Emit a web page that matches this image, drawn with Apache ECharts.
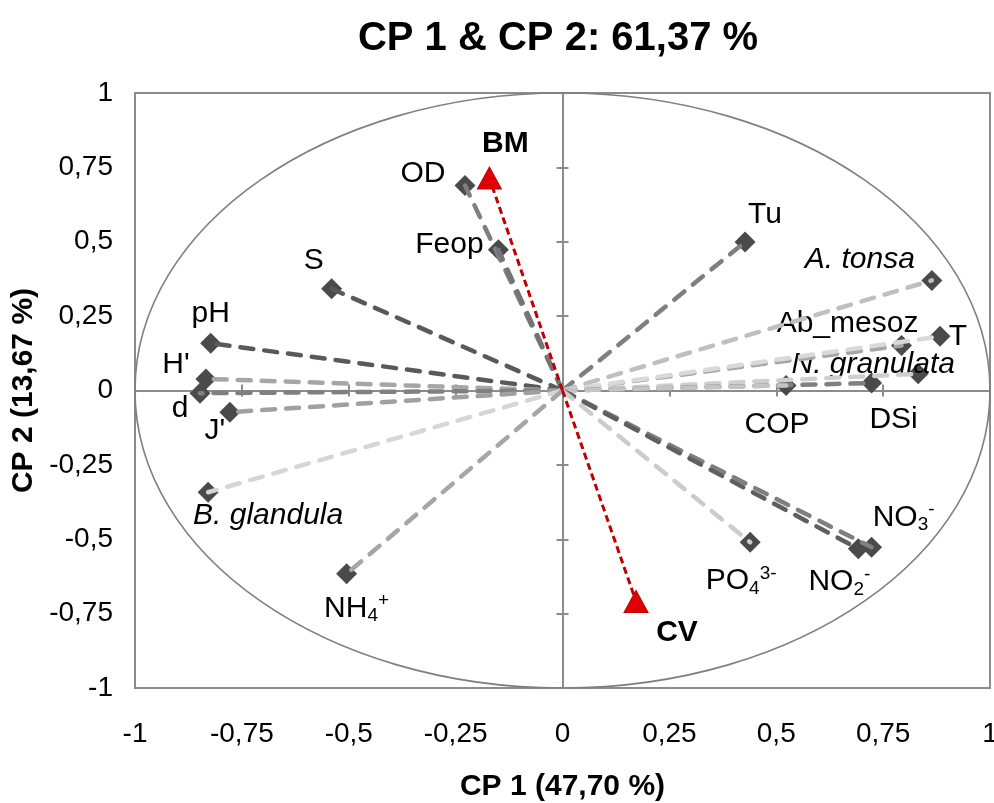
<!DOCTYPE html>
<html>
<head>
<meta charset="utf-8">
<script src="https://cdn.jsdelivr.net/npm/echarts@6/dist/echarts.min.js"></script>
<style>
  html, body { margin: 0; padding: 0; background: #ffffff; }
  #chart { width: 994px; height: 803px; }
</style>
</head>
<body>
<div id="chart"></div>
<script>
// ---- Data: PCA loadings on the first two components ----
const variables = ['OD', 'Feop', 'S', 'pH', "H'", 'd', "J'", 'B. glandula', 'NH4+',
  'Tu', 'A. tonsa', 'Ab_mesoz', 'T', 'N. granulata', 'DSi', 'COP', 'NO3-', 'NO2-', 'PO43-'];
const cp1 = [-0.228, -0.150, -0.540, -0.823, -0.834, -0.848, -0.778, -0.829, -0.505,
  0.427, 0.864, 0.793, 0.883, 0.832, 0.723, 0.523, 0.723, 0.692, 0.439];
const cp2 = [0.689, 0.473, 0.342, 0.159, 0.039, -0.009, -0.073, -0.342, -0.616,
  0.499, 0.370, 0.151, 0.182, 0.056, 0.025, 0.017, -0.527, -0.532, -0.510];

// Supplementary sites projected on the plane
const sites = ['BM', 'CV'];
const siteCp1 = [-0.171, 0.172];
const siteCp2 = [0.714, -0.709];

// Axis ticks and their printed labels (decimal comma)
const tickValues = [-1, -0.75, -0.5, -0.25, 0, 0.25, 0.5, 0.75, 1];
const tickLabels = ['-1', '-0,75', '-0,5', '-0,25', '0', '0,25', '0,5', '0,75', '1'];

const chartTitle = 'CP 1 & CP 2: 61,37 %';
const xAxisName = 'CP 1 (47,70 %)';
const yAxisName = 'CP 2 (13,67 %)';

// ---- Styling ----
const FONT = '"Liberation Sans", Arial, Helvetica, sans-serif';
const AXIS_GREY = '#8c8c8c';
const MARKER_GREY = '#4a4a4a';

const vectorColor = {
  'OD': '#7f7f7f', 'Feop': '#747474', 'S': '#595959', 'pH': '#595959', "H'": '#a6a6a6',
  'd': '#808080', "J'": '#a0a0a0', 'B. glandula': '#d6d6d6', 'NH4+': '#a6a6a6',
  'Tu': '#7f7f7f', 'A. tonsa': '#bfbfbf', 'Ab_mesoz': '#a6a6a6', 'T': '#d9d9d9',
  'N. granulata': '#cfcfcf', 'DSi': '#808080', 'COP': '#c4c4c4', 'NO3-': '#7f7f7f',
  'NO2-': '#5f5f5f', 'PO43-': '#cccccc'
};

// label placement relative to its marker, in pixels [dx, dy]
const labelOffset = {
  'OD': [-42, -12], 'Feop': [-49, -5], 'S': [-18, -28], 'pH': [0, -29], "H'": [-30, -14],
  'd': [-20, 16], "J'": [-15, 19], 'B. glandula': [60, 23], 'NH4+': [10, 35],
  'Tu': [20, -27], 'A. tonsa': [-72, -21], 'Ab_mesoz': [-54, -22], 'T': [18, 0],
  'N. granulata': [-45, -9], 'DSi': [22, 37], 'COP': [-9, 39], 'NO3-': [32, -30],
  'NO2-': [-19, 33], 'PO43-': [-9, 39]
};
const siteLabelOffset = { 'BM': [16, -34], 'CV': [41, 31] };

const richLabel = {
  'NH4+': '{n|NH}{sub|4}{sup|+}',
  'NO3-': '{n|NO}{sub|3}{sup|-}',
  'NO2-': '{n|NO}{sub|2}{sup|-}',
  'PO43-': '{n|PO}{sub|4}{sup|3-}',
  'B. glandula': '{i|B. glandula}',
  'A. tonsa': '{i|A. tonsa}',
  'N. granulata': '{i|N. granulata}'
};

const richStyles = {
  n: { fontSize: 30, fontFamily: FONT, color: '#000', lineHeight: 34 },
  i: { fontSize: 30, fontFamily: FONT, color: '#000', fontStyle: 'italic', lineHeight: 34 },
  sub: { fontSize: 19, fontFamily: FONT, color: '#000', verticalAlign: 'bottom', lineHeight: 16 },
  sup: { fontSize: 19, fontFamily: FONT, color: '#000', verticalAlign: 'top', lineHeight: 16 }
};

function tickFormatter(v) {
  for (let i = 0; i < tickValues.length; i++) {
    if (Math.abs(tickValues[i] - v) < 1e-9) return tickLabels[i];
  }
  return '';
}

// ---- Series ----
const series = [];

// unit correlation circle, scaled through the axes
series.push({
  type: 'custom',
  silent: true,
  z: 1,
  data: [[0, 0]],
  renderItem: function (params, api) {
    const c = api.coord([0, 0]);
    const px = api.coord([1, 0]);
    const py = api.coord([0, 1]);
    return {
      type: 'ellipse',
      shape: { cx: c[0], cy: c[1], rx: px[0] - c[0], ry: c[1] - py[1] },
      style: { fill: 'none', stroke: '#7f7f7f', lineWidth: 1.6 }
    };
  }
});

// variable markers
series.push({
  type: 'scatter',
  z: 3,
  symbol: 'diamond',
  symbolSize: 21,
  itemStyle: { color: MARKER_GREY, opacity: 1 },
  data: variables.map(function (name, i) {
    return {
      name: name,
      value: [cp1[i], cp2[i]],
      label: {
        show: true,
        position: 'inside',
        offset: labelOffset[name],
        align: 'center',
        verticalAlign: 'middle',
        color: '#000',
        opacity: 1,
        textBorderWidth: 0,
        formatter: richLabel[name] || ('{n|' + name + '}'),
        rich: richStyles
      }
    };
  })
});

// loading vectors from the origin
variables.forEach(function (name, i) {
  series.push({
    type: 'line',
    z: 4,
    symbol: 'none',
    silent: true,
    lineStyle: { color: vectorColor[name], width: 4.5, type: [13, 11], cap: 'round', opacity: 1 },
    data: [[0, 0], [cp1[i], cp2[i]]]
  });
});

// site vectors
sites.forEach(function (name, i) {
  series.push({
    type: 'line',
    z: 6,
    symbol: 'none',
    silent: true,
    lineStyle: { color: '#c00000', width: 3, type: [7, 4], opacity: 1 },
    data: [[0, 0], [siteCp1[i], siteCp2[i]]]
  });
});

series.push({
  type: 'scatter',
  z: 7,
  symbol: 'triangle',
  symbolSize: [24, 22],
  itemStyle: { color: '#e00000', borderColor: '#c00000', borderWidth: 1, opacity: 1 },
  data: sites.map(function (name, i) {
    return {
      name: name,
      value: [siteCp1[i], siteCp2[i]],
      label: {
        show: true,
        position: 'inside',
        offset: siteLabelOffset[name],
        formatter: name,
        fontSize: 30,
        fontWeight: 'bold',
        fontFamily: FONT,
        color: '#000',
        opacity: 1,
        textBorderWidth: 0
      }
    };
  })
});

// ---- Axes ----
function labelAxis(pos) {
  return {
    type: 'value', min: -1, max: 1, interval: 0.25, position: pos,
    axisLine: { show: false, onZero: false },
    axisTick: { show: false },
    splitLine: { show: false },
    axisLabel: { fontSize: 28, color: '#000', fontFamily: FONT, formatter: tickFormatter }
  };
}
function zeroAxis(pos) {
  return {
    type: 'value', min: -1, max: 1, interval: 0.25, position: pos,
    axisLine: { show: true, onZero: true, onZeroAxisIndex: 0, lineStyle: { color: AXIS_GREY, width: 2 } },
    axisTick: { show: true, inside: false, length: 6, lineStyle: { color: AXIS_GREY, width: 2 } },
    axisLabel: { show: false },
    splitLine: { show: false }
  };
}

const xLabelAxis = labelAxis('bottom');
xLabelAxis.axisLabel.margin = 32;
xLabelAxis.name = xAxisName;
xLabelAxis.nameLocation = 'middle';
xLabelAxis.nameGap = 84;
xLabelAxis.nameTextStyle = { fontSize: 30, fontWeight: 'bold', color: '#000', fontFamily: FONT };

const yLabelAxis = labelAxis('left');
yLabelAxis.axisLabel.margin = 22;
yLabelAxis.name = yAxisName;
yLabelAxis.nameLocation = 'middle';
yLabelAxis.nameGap = 79;
yLabelAxis.nameRotate = 90;
yLabelAxis.nameTextStyle = { fontSize: 30, fontWeight: 'bold', color: '#000', fontFamily: FONT };

const option = {
  animation: false,
  backgroundColor: '#ffffff',
  title: {
    text: chartTitle,
    left: 553,
    top: 14,
    textAlign: 'center',
    textStyle: { fontSize: 40, fontWeight: 'bold', color: '#000', fontFamily: FONT }
  },
  grid: {
    left: 135, right: 4, top: 93, bottom: 115,
    outerBoundsMode: 'none',
    containLabel: false,
    show: true, borderColor: AXIS_GREY, borderWidth: 2, backgroundColor: '#ffffff'
  },
  xAxis: [xLabelAxis, zeroAxis('bottom'), zeroAxis('top')],
  yAxis: [yLabelAxis, zeroAxis('left'), zeroAxis('right')],
  series: series
};

const chart = echarts.init(document.getElementById('chart'), null, { renderer: 'canvas' });
chart.setOption(option);
</script>
</body>
</html>
